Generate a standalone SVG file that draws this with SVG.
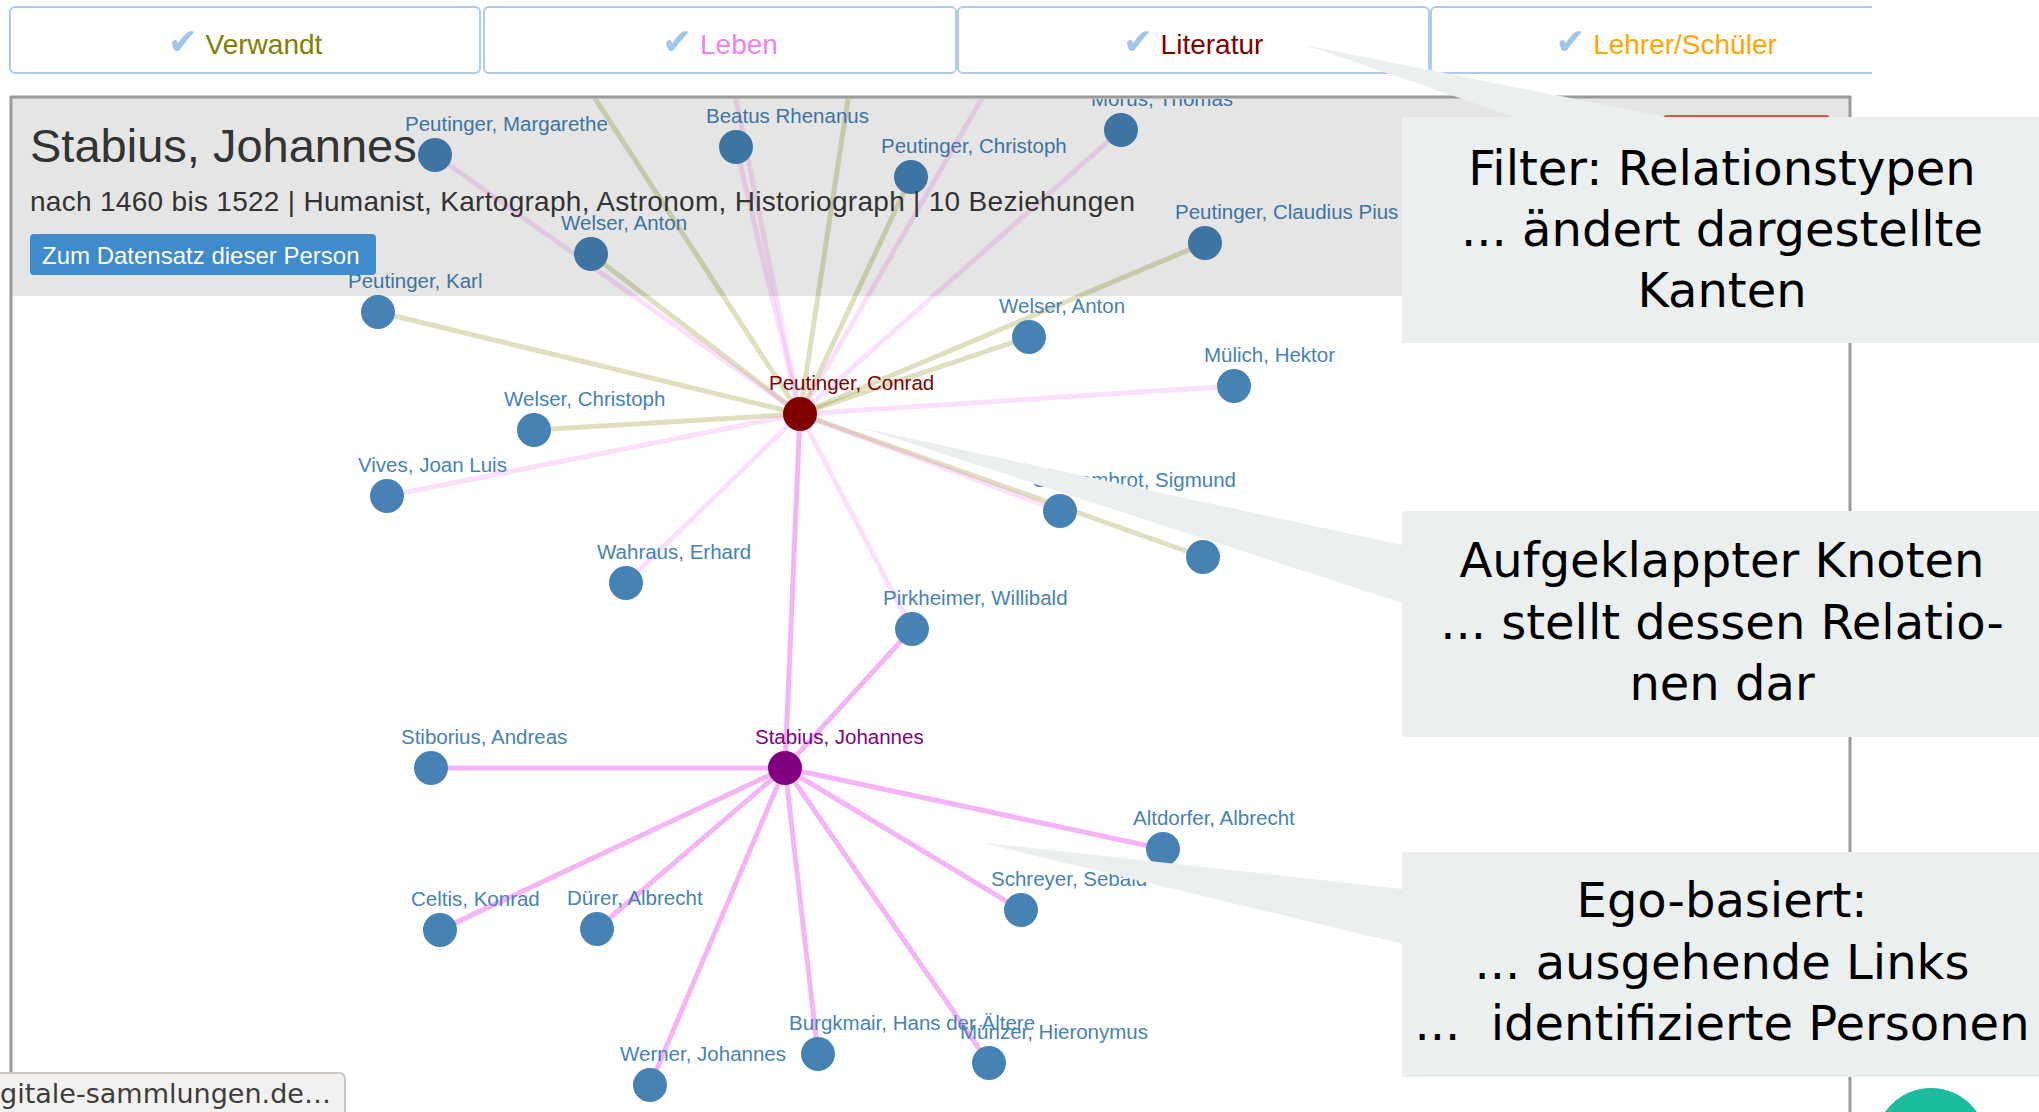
<svg xmlns="http://www.w3.org/2000/svg" width="2039" height="1112" viewBox="0 0 2039 1112">
<defs>
<style>
.tab{fill:#fff;stroke:#aecbea;stroke-width:2}
.tt{font-family:"Liberation Sans",Arial,sans-serif;font-size:28px;text-anchor:middle}
.chk{font-family:"DejaVu Sans",sans-serif;fill:#9fc5ea;font-size:36px}
.kin{stroke:#808000;stroke-opacity:0.25;stroke-width:5}
.life{stroke:#ee82ee;stroke-opacity:0.25;stroke-width:5}
.ego{stroke:#ee82ee;stroke-opacity:0.6;stroke-width:5}
.n{fill:#4682b4}
.lbl{font-family:"Liberation Sans",Arial,sans-serif;font-size:20.5px;fill:#4682b4}
.hd{font-family:"Liberation Sans",Arial,sans-serif;fill:#333}
.co{fill:#eceff0}
.ct{font-family:"DejaVu Sans",sans-serif;font-size:48px;fill:#000;text-anchor:middle}
.border{stroke:#9a9a9a;stroke-width:3;fill:none}
</style>
<clipPath id="graphClip"><rect x="12" y="99" width="1837" height="1013"/></clipPath>
<clipPath id="tab4clip"><rect x="1420" y="0" width="452" height="80"/></clipPath>
</defs>
<rect width="2039" height="1112" fill="#fff"/>

<g id="tabs">
<g id="tab-verwandt"><rect class="tab" x="10" y="7" width="470" height="66" rx="5"/><text class="tt" x="245" y="54"><tspan class="chk">✔</tspan><tspan fill="#808000"> Verwandt</tspan></text></g>
<g id="tab-leben"><rect class="tab" x="484" y="7" width="472" height="66" rx="5"/><text class="tt" x="720" y="54"><tspan class="chk">✔</tspan><tspan fill="#ee82ee"> Leben</tspan></text></g>
<g id="tab-literatur"><rect class="tab" x="958" y="7" width="471" height="66" rx="5"/><text class="tt" x="1193" y="54"><tspan class="chk">✔</tspan><tspan fill="#800000"> Literatur</tspan></text></g>
<g id="tab-lehrer"><rect class="tab" x="1431" y="7" width="471" height="66" rx="5" clip-path="url(#tab4clip)"/><text class="tt" x="1666" y="54"><tspan class="chk">✔</tspan><tspan fill="#ffa500"> Lehrer/Schüler</tspan></text></g>
</g>

<g clip-path="url(#graphClip)">
<g id="connectors">
<line class="kin" x1="800" y1="414" x2="378" y2="312"/>
<line class="kin" x1="800" y1="414" x2="534" y2="430"/>
<line class="kin" x1="800" y1="414" x2="591" y2="254"/>
<line class="kin" x1="800" y1="414" x2="570" y2="60"/>
<line class="kin" x1="800" y1="414" x2="854" y2="60"/>
<line class="kin" x1="800" y1="414" x2="911" y2="177"/>
<line class="kin" x1="800" y1="414" x2="1205" y2="243"/>
<line class="kin" x1="800" y1="414" x2="1029" y2="337"/>
<line class="kin" x1="800" y1="414" x2="1203" y2="557"/>
<line class="life" x1="800" y1="414" x2="435" y2="155"/>
<line class="life" x1="800" y1="414" x2="736" y2="147"/>
<line class="life" x1="800" y1="414" x2="728" y2="60"/>
<line class="life" x1="800" y1="414" x2="1004" y2="60"/>
<line class="life" x1="800" y1="414" x2="1121" y2="130"/>
<line class="life" x1="800" y1="414" x2="1234" y2="386"/>
<line class="life" x1="800" y1="414" x2="387" y2="496"/>
<line class="life" x1="800" y1="414" x2="626" y2="583"/>
<line class="life" x1="800" y1="414" x2="912" y2="629"/>
<line class="life" x1="800" y1="414" x2="1060" y2="511"/>
<line class="ego" x1="785" y1="768" x2="800" y2="414"/>
<line class="ego" x1="785" y1="768" x2="912" y2="629"/>
<line class="ego" x1="785" y1="768" x2="431" y2="768" stroke-width="6"/>
<line class="ego" x1="785" y1="768" x2="440" y2="930"/>
<line class="ego" x1="785" y1="768" x2="597" y2="929"/>
<line class="ego" x1="785" y1="768" x2="650" y2="1085"/>
<line class="ego" x1="785" y1="768" x2="818" y2="1054"/>
<line class="ego" x1="785" y1="768" x2="989" y2="1063"/>
<line class="ego" x1="785" y1="768" x2="1021" y2="910"/>
<line class="ego" x1="785" y1="768" x2="1163" y2="849" stroke-width="7"/>
</g>

<g id="n-margarethe"><circle class="n" cx="435" cy="155" r="17"/><text class="lbl" x="405" y="131">Peutinger, Margarethe</text></g>
<g id="n-beatus"><circle class="n" cx="736" cy="147" r="17"/><text class="lbl" x="706" y="123">Beatus Rhenanus</text></g>
<g id="n-christoph-p"><circle class="n" cx="911" cy="177" r="17"/><text class="lbl" x="881" y="153">Peutinger, Christoph</text></g>
<g id="n-morus"><circle class="n" cx="1121" cy="130" r="17"/><text class="lbl" x="1091" y="106">Morus, Thomas</text></g>
<g id="n-claudius"><circle class="n" cx="1205" cy="243" r="17"/><text class="lbl" x="1175" y="219">Peutinger, Claudius Pius</text></g>
<g id="n-welser-anton-1"><circle class="n" cx="591" cy="254" r="17"/><text class="lbl" x="561" y="230">Welser, Anton</text></g>
<g id="n-karl"><circle class="n" cx="378" cy="312" r="17"/><text class="lbl" x="348" y="288">Peutinger, Karl</text></g>
<g id="n-welser-anton-2"><circle class="n" cx="1029" cy="337" r="17"/><text class="lbl" x="999" y="313">Welser, Anton</text></g>
<g id="n-muelich"><circle class="n" cx="1234" cy="386" r="17"/><text class="lbl" x="1204" y="362">Mülich, Hektor</text></g>
<g id="n-welser-christoph"><circle class="n" cx="534" cy="430" r="17"/><text class="lbl" x="504" y="406">Welser, Christoph</text></g>
<g id="n-vives"><circle class="n" cx="387" cy="496" r="17"/><text class="lbl" x="358" y="472">Vives, Joan Luis</text></g>
<g id="n-gossembrot"><circle class="n" cx="1060" cy="511" r="17"/><text class="lbl" x="1032" y="487">Gossembrot, Sigmund</text></g>
<g id="n-hidden"><circle class="n" cx="1203" cy="557" r="17"/></g>
<g id="n-wahraus"><circle class="n" cx="626" cy="583" r="17"/><text class="lbl" x="597" y="559">Wahraus, Erhard</text></g>
<g id="n-pirkheimer"><circle class="n" cx="912" cy="629" r="17"/><text class="lbl" x="883" y="605">Pirkheimer, Willibald</text></g>
<g id="n-conrad"><circle cx="800" cy="414" r="17" fill="#800000"/><text class="lbl" x="769" y="390" style="fill:#800000">Peutinger, Conrad</text></g>
<g id="n-stabius"><circle cx="785" cy="768" r="17" fill="#800080"/><text class="lbl" x="755" y="744" style="fill:#800080">Stabius, Johannes</text></g>
<g id="n-stiborius"><circle class="n" cx="431" cy="768" r="17"/><text class="lbl" x="401" y="744">Stiborius, Andreas</text></g>
<g id="n-altdorfer"><circle class="n" cx="1163" cy="849" r="17"/><text class="lbl" x="1133" y="825">Altdorfer, Albrecht</text></g>
<g id="n-celtis"><circle class="n" cx="440" cy="930" r="17"/><text class="lbl" x="411" y="906">Celtis, Konrad</text></g>
<g id="n-duerer"><circle class="n" cx="597" cy="929" r="17"/><text class="lbl" x="567" y="905">Dürer, Albrecht</text></g>
<g id="n-schreyer"><circle class="n" cx="1021" cy="910" r="17"/><text class="lbl" x="991" y="886">Schreyer, Sebald</text></g>
<g id="n-burgkmair"><circle class="n" cx="818" cy="1054" r="17"/><text class="lbl" x="789" y="1030">Burgkmair, Hans der Ältere</text></g>
<g id="n-muenzer"><circle class="n" cx="989" cy="1063" r="17"/><text class="lbl" x="960" y="1039">Münzer, Hieronymus</text></g>
<g id="n-werner"><circle class="n" cx="650" cy="1085" r="17"/><text class="lbl" x="620" y="1061">Werner, Johannes</text></g>
</g>

<g id="header">
<rect x="12" y="98" width="1837" height="198" fill="#000" fill-opacity="0.1"/>
<text class="hd" x="30" y="162" font-size="47">Stabius, Johannes</text>
<text class="hd" x="30" y="211" font-size="28" textLength="1105" lengthAdjust="spacing">nach 1460 bis 1522 | Humanist, Kartograph, Astronom, Historiograph | 10 Beziehungen</text>
<rect x="30" y="234" width="346" height="41" rx="4" fill="#3f8bcb"/>
<text x="42" y="264" font-family="Liberation Sans, Arial, sans-serif" font-size="24" fill="#fff">Zum Datensatz dieser Person</text>
<rect x="1663" y="115" width="167" height="44" rx="4" fill="#d9534f"/>
</g>

<g id="panel-border">
<line class="border" x1="10" y1="97" x2="1851" y2="97"/>
<line class="border" x1="11" y1="96" x2="11" y2="1112"/>
<line class="border" x1="1850" y1="96" x2="1850" y2="1112" stroke="#aaa"/>
</g>

<g id="callout-filter">
<polygon class="co" points="1305,45 1665,117 2039,117 2039,343 1402,343 1402,117 1515,117"/>
<text class="ct" x="1722" y="185">Filter: Relationstypen</text>
<text class="ct" x="1722" y="246">... ändert dargestellte</text>
<text class="ct" x="1722" y="307">Kanten</text>
</g>
<g id="callout-knoten">
<polygon class="co" points="863,428 1402,545 1402,511 2039,511 2039,737 1402,737 1402,603"/>
<text class="ct" x="1722" y="577">Aufgeklappter Knoten</text>
<text class="ct" x="1722" y="639">... stellt dessen Relatio-</text>
<text class="ct" x="1722" y="700">nen dar</text>
</g>
<g id="callout-ego">
<polygon class="co" points="978,842 1402,889 1402,852 2039,852 2039,1077 1402,1077 1402,944"/>
<text class="ct" x="1722" y="917">Ego-basiert:</text>
<text class="ct" x="1722" y="979">... ausgehende Links</text>
<text class="ct" x="1722" y="1040" xml:space="preserve">...  identifizierte Personen</text>
</g>

<g id="url-tip">
<rect x="-6" y="1073" width="351" height="50" rx="6" fill="#f2f1f0" stroke="#c9c6c2" stroke-width="2"/>
<text x="0" y="1103" font-family="DejaVu Sans, sans-serif" font-size="27" fill="#3c3c3c" textLength="331" lengthAdjust="spacingAndGlyphs">gitale-sammlungen.de…</text>
</g>
<circle id="green-dot" cx="1931" cy="1144" r="56" fill="#1abc9c"/>
</svg>
